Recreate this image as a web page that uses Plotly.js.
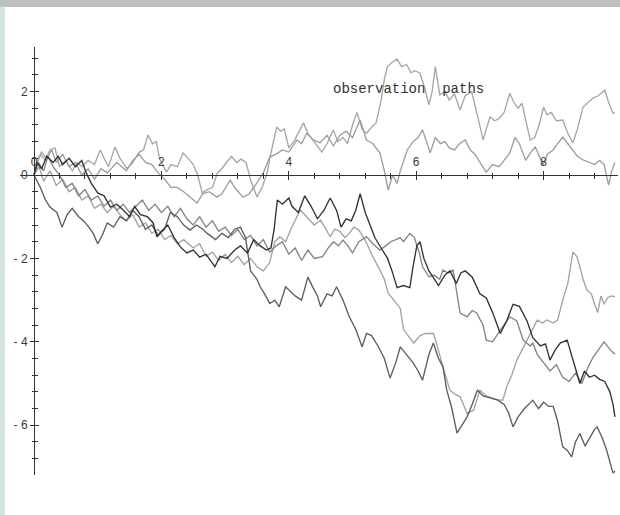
<!DOCTYPE html>
<html>
<head>
<meta charset="utf-8">
<script src="https://cdn.plot.ly/plotly-3.0.1.min.js"></script>
<style>
html,body{margin:0;padding:0;background:#fff;}
#wrap{position:relative;width:620px;height:515px;overflow:hidden;}
#chart{position:absolute;left:0;top:0;width:620px;height:515px;}
#topbar{position:absolute;left:0;top:0;width:620px;height:7px;background:#bdbebf;}
#leftbar{position:absolute;left:0;top:7px;width:5px;height:508px;background:#d3e5e5;}
</style>
</head>
<body>
<div id="wrap"><div id="chart"></div><div id="topbar"></div><div id="leftbar"></div></div>
<script>
// observation paths: time samples and values
var tA = [0,0.05,0.1,0.18,0.25,0.33,0.4,0.5,0.6,0.68,
  0.75,0.85,0.95,1.04,1.1,1.17,1.27,1.35,1.46,1.55,
  1.65,1.72,1.79,1.86,1.92,1.97,2.08,2.15,2.25,2.34,
  2.42,2.5,2.57,2.64,2.72,2.8,2.88,2.95,3.02,3.1,
  3.18,3.25,3.33,3.4,3.5,3.58,3.66,3.72,3.81,3.87,
  3.93,4.0,4.08,4.15,4.23,4.3,4.37,4.45,4.52,4.6,
  4.7,4.77,4.85,4.92,5.0,5.07,5.15,5.22,5.3,5.37,
  5.45,5.5,5.55,5.62,5.7,5.77,5.85,5.92,5.98,6.06,
  6.14,6.2,6.25,6.3,6.37,6.45,6.52,6.6,6.69,6.77,
  6.87,6.95,7.05,7.1,7.16,7.23,7.3,7.38,7.47,7.53,
  7.6,7.66,7.72,7.79,7.86,7.93,8.0,8.05,8.12,8.2,
  8.3,8.38,8.46,8.53,8.62,8.7,8.78,8.86,8.96,9.03,
  9.09,9.12];
var vA = [0,0.3,0.5,0.35,0.6,0.65,0.2,0.35,0.1,0.3,
  0.2,0.35,0.25,0.6,0.4,0.2,0.67,0.4,0.15,0.3,
  0.55,0.6,0.96,0.75,0.8,0.4,0.07,0.25,0.2,0.53,
  0.4,0.25,0.0,-0.43,-0.35,-0.3,0.05,0.15,0.3,0.45,
  0.3,0.38,0.3,-0.12,-0.53,-0.3,0.05,0.53,1.15,1.05,
  1.1,0.65,0.8,1.0,1.25,1.0,0.85,0.7,0.55,0.75,
  1.08,0.8,0.9,0.75,1.2,1.5,1.1,1.0,1.15,1.25,
  1.8,2.3,2.6,2.7,2.78,2.6,2.65,2.45,2.5,2.44,
  2.05,1.68,2.0,2.6,1.92,2.0,1.8,1.95,1.56,1.9,
  2.0,1.5,0.84,1.1,1.39,1.3,1.35,1.5,1.96,1.75,
  1.6,1.72,1.3,0.84,0.9,1.2,1.63,1.45,1.5,1.3,
  1.32,1.0,0.77,1.1,1.63,1.75,1.85,1.9,2.04,1.7,
  1.48,1.5];

var tB = [0,0.06,0.12,0.2,0.28,0.35,0.45,0.55,0.65,0.75,
  0.85,0.95,1.05,1.15,1.3,1.45,1.55,1.65,1.75,1.85,
  1.95,2.05,2.15,2.24,2.35,2.45,2.56,2.65,2.75,2.87,
  2.95,3.08,3.15,3.28,3.38,3.5,3.6,3.7,3.8,3.9,
  4.0,4.13,4.2,4.28,4.38,4.49,4.6,4.7,4.8,4.9,
  5.0,5.12,5.22,5.32,5.43,5.5,5.56,5.63,5.7,5.75,
  5.86,5.95,6.03,6.1,6.16,6.22,6.3,6.38,6.45,6.52,
  6.6,6.68,6.77,6.85,6.92,7.0,7.1,7.2,7.3,7.38,
  7.47,7.55,7.62,7.72,7.8,7.87,7.93,7.99,8.06,8.15,
  8.22,8.3,8.38,8.45,8.53,8.62,8.72,8.8,8.88,8.95,
  9.02,9.07,9.12];
var vB = [0,0.35,0.55,0.4,0.6,0.3,0.5,0.2,0.3,0.0,
  0.15,-0.1,0.15,0.05,0.3,0.1,0.35,0.5,0.3,0.25,
  0.05,-0.1,-0.3,-0.29,-0.4,-0.53,-0.67,-0.45,-0.4,-0.53,
  -0.45,-0.12,-0.3,-0.53,-0.45,-0.19,0.05,0.43,0.5,0.6,
  0.55,0.84,0.75,1.0,0.85,0.77,0.95,0.7,0.95,1.05,
  0.9,1.32,0.84,0.75,0.53,0.1,-0.36,0.0,-0.2,0.1,
  0.6,0.8,0.9,1.08,0.8,0.53,0.9,0.75,0.8,0.65,
  0.6,0.75,0.84,0.6,0.5,0.3,0.07,0.25,0.2,0.35,
  0.53,0.9,0.75,0.35,0.55,0.67,0.45,0.24,0.5,0.6,
  0.75,0.91,0.75,0.6,0.45,0.36,0.3,0.25,0.35,0.25,
  -0.24,0.1,0.3];

var tC = [0,0.05,0.12,0.2,0.3,0.38,0.45,0.55,0.65,0.75,
  0.82,0.9,1.0,1.1,1.2,1.3,1.4,1.5,1.58,1.67,
  1.78,1.87,1.93,2.0,2.1,2.2,2.3,2.4,2.5,2.6,
  2.7,2.84,2.92,3.03,3.15,3.24,3.35,3.45,3.55,3.65,
  3.72,3.77,3.82,3.9,4.0,4.05,4.15,4.25,4.35,4.45,
  4.55,4.65,4.75,4.82,4.9,4.98,5.05,5.12,5.2,5.28,
  5.35,5.45,5.55,5.62,5.7,5.8,5.9,5.95,6.01,6.06,
  6.12,6.2,6.27,6.35,6.45,6.53,6.63,6.7,6.77,6.88,
  7.0,7.1,7.2,7.32,7.42,7.52,7.62,7.74,7.83,7.95,
  8.03,8.1,8.18,8.26,8.37,8.48,8.57,8.64,8.72,8.8,
  8.88,8.96,9.04,9.09,9.12];
var vC = [0,0.3,0.15,0.45,0.3,0.45,0.25,0.4,0.2,0.35,
  0.05,-0.2,-0.43,-0.5,-0.77,-0.7,-0.84,-1.0,-0.75,-0.95,
  -1.0,-1.15,-1.48,-1.35,-1.2,-1.5,-1.73,-1.87,-1.8,-1.97,
  -1.9,-2.2,-1.95,-2.0,-1.8,-1.7,-1.87,-1.55,-1.7,-1.8,
  -1.75,-1.3,-0.6,-0.7,-0.55,-0.75,-0.9,-0.5,-0.75,-1.05,
  -0.85,-0.55,-0.85,-1.25,-1.05,-1.1,-0.85,-0.45,-0.9,-1.2,
  -1.5,-1.75,-2.0,-2.3,-2.7,-2.65,-2.7,-2.2,-1.7,-1.6,
  -2.0,-2.3,-2.45,-2.65,-2.4,-2.3,-2.6,-2.35,-2.3,-2.45,
  -2.85,-2.95,-3.3,-3.8,-3.5,-3.1,-3.15,-3.5,-3.9,-4.1,
  -4.05,-4.44,-4.2,-4.03,-3.96,-4.5,-5.0,-4.7,-4.85,-4.8,
  -4.9,-4.95,-5.2,-5.5,-5.8];

var tD = [0,0.1,0.18,0.25,0.36,0.44,0.52,0.6,0.7,0.78,
  0.86,0.93,1.0,1.07,1.15,1.25,1.35,1.45,1.55,1.65,
  1.75,1.85,1.95,2.05,2.14,2.25,2.35,2.45,2.55,2.65,
  2.72,2.85,2.95,3.05,3.15,3.24,3.32,3.4,3.5,3.55,
  3.62,3.7,3.78,3.85,3.95,4.03,4.1,4.2,4.3,4.38,
  4.45,4.5,4.6,4.68,4.75,4.85,4.95,5.05,5.15,5.22,
  5.3,5.4,5.5,5.59,5.68,5.75,5.85,5.95,6.03,6.1,
  6.2,6.27,6.35,6.42,6.48,6.56,6.64,6.72,6.8,6.88,
  6.96,7.05,7.15,7.28,7.38,7.45,7.52,7.6,7.7,7.83,
  7.92,8.0,8.08,8.15,8.22,8.3,8.37,8.44,8.5,8.57,
  8.65,8.72,8.8,8.84,8.92,8.99,9.05,9.09,9.12];
var vD = [0,-0.3,-0.6,-0.77,-0.9,-1.25,-0.95,-0.8,-1.0,-1.1,
  -1.25,-1.4,-1.65,-1.45,-1.15,-1.25,-1.0,-1.1,-0.85,-1.0,
  -1.3,-1.2,-1.45,-1.3,-0.9,-1.0,-1.2,-1.32,-1.2,-1.3,
  -1.4,-1.55,-1.4,-1.5,-1.3,-1.25,-1.5,-2.3,-2.5,-2.68,
  -2.85,-3.08,-3.0,-3.16,-2.68,-2.8,-2.9,-3.0,-2.45,-2.7,
  -2.9,-3.16,-2.85,-2.9,-2.68,-3.0,-3.4,-3.7,-4.12,-3.8,
  -3.85,-4.1,-4.4,-4.87,-4.5,-4.12,-4.3,-4.5,-4.7,-4.92,
  -4.3,-4.03,-4.4,-4.6,-5.16,-5.6,-6.19,-6.0,-5.8,-5.5,
  -5.16,-5.3,-5.35,-5.4,-5.5,-5.7,-6.04,-5.8,-5.6,-5.4,
  -5.6,-5.45,-5.55,-5.55,-5.9,-6.52,-6.6,-6.76,-6.4,-6.2,
  -6.5,-6.3,-6.1,-6.04,-6.3,-6.6,-6.9,-7.15,-7.1];

var tE = [0,0.08,0.15,0.25,0.35,0.45,0.55,0.65,0.75,0.85,
  0.95,1.05,1.15,1.25,1.35,1.45,1.55,1.65,1.75,1.85,
  1.95,2.05,2.15,2.25,2.35,2.5,2.6,2.7,2.8,2.9,
  3.0,3.1,3.2,3.3,3.4,3.5,3.6,3.7,3.78,3.86,
  3.95,4.05,4.18,4.3,4.4,4.5,4.58,4.65,4.72,4.8,
  4.88,4.95,5.02,5.1,5.2,5.3,5.43,5.5,5.56,5.65,
  5.75,5.8,5.85,5.96,6.06,6.15,6.27,6.32,6.42,6.53,
  6.6,6.69,6.8,6.9,7.0,7.1,7.2,7.3,7.36,7.42,
  7.5,7.58,7.66,7.74,7.82,7.9,7.98,8.05,8.15,8.22,
  8.3,8.38,8.46,8.52,8.57,8.62,8.68,8.75,8.8,8.85,
  8.9,8.95,9.0,9.06,9.12];
var vE = [0,0.2,-0.15,0.1,-0.25,-0.1,-0.4,-0.3,-0.6,-0.5,
  -0.8,-0.7,-0.9,-0.75,-0.95,-1.1,-0.95,-1.25,-1.15,-1.4,
  -1.3,-1.55,-1.45,-1.65,-1.55,-1.75,-1.65,-1.95,-1.85,-2.05,
  -1.9,-2.1,-1.95,-2.15,-2.0,-2.2,-2.3,-2.1,-1.6,-1.48,
  -1.6,-1.24,-0.84,-1.05,-1.2,-1.08,-1.3,-1.48,-1.3,-1.35,
  -1.5,-1.4,-1.25,-1.32,-1.56,-1.9,-2.28,-2.5,-2.83,-3.0,
  -3.2,-3.7,-3.8,-4.03,-3.85,-3.8,-3.8,-4.04,-4.6,-5.16,
  -5.25,-5.32,-5.72,-5.64,-5.16,-5.3,-5.35,-5.4,-5.4,-5.08,
  -4.8,-4.44,-4.2,-3.96,-3.7,-3.48,-3.55,-3.48,-3.55,-3.48,
  -3.0,-2.6,-1.85,-1.95,-2.2,-2.5,-2.76,-2.85,-3.1,-3.3,
  -2.9,-3.1,-2.95,-2.9,-2.92];

var tF = [0,0.07,0.15,0.22,0.3,0.4,0.5,0.6,0.7,0.8,
  0.9,1.0,1.1,1.2,1.3,1.4,1.5,1.6,1.7,1.8,
  1.9,2.0,2.1,2.2,2.3,2.4,2.5,2.6,2.7,2.8,
  2.9,3.0,3.1,3.2,3.3,3.4,3.5,3.6,3.7,3.8,
  3.9,4.0,4.1,4.2,4.3,4.4,4.53,4.62,4.7,4.78,
  4.85,4.93,5.0,5.1,5.22,5.32,5.43,5.52,5.6,5.68,
  5.75,5.8,5.9,5.97,6.05,6.1,6.2,6.28,6.37,6.42,
  6.5,6.58,6.64,6.69,6.8,6.88,6.95,7.05,7.1,7.2,
  7.32,7.4,7.47,7.58,7.68,7.79,7.83,7.9,8.0,8.1,
  8.2,8.3,8.4,8.5,8.6,8.7,8.78,8.88,8.95,9.05,
  9.12];
var vF = [0,0.3,0.1,0.45,0.2,0.0,-0.3,-0.2,-0.5,-0.35,
  -0.6,-0.5,-0.75,-0.6,-0.85,-0.7,-0.9,-0.75,-0.6,-0.85,
  -0.7,-0.9,-0.75,-1.0,-0.8,-1.05,-1.2,-1.0,-1.25,-1.1,
  -1.35,-1.25,-1.45,-1.3,-1.55,-1.45,-1.7,-1.55,-1.85,-1.7,
  -1.6,-1.9,-1.75,-2.05,-1.8,-2.0,-1.96,-1.75,-1.6,-1.7,
  -1.56,-1.7,-1.87,-1.6,-1.48,-1.65,-1.8,-1.7,-1.6,-1.55,
  -1.5,-1.6,-1.4,-1.5,-1.87,-2.2,-2.44,-2.4,-2.5,-2.28,
  -2.35,-2.28,-2.8,-3.31,-3.4,-3.25,-3.31,-3.6,-3.96,-4.0,
  -3.72,-3.55,-3.4,-3.5,-3.96,-4.1,-4.03,-4.3,-4.5,-4.7,
  -4.55,-4.85,-4.95,-4.75,-5.0,-4.6,-4.36,-4.15,-4.0,-4.2,
  -4.3];

var xTickVals = [0, 2, 4, 6, 8];
var xTickText = ['0', '2', '4', '6', '8'];
var yTickVals = [-6, -4, -2, 0, 2];
var yTickText = ['- 6', '- 4', '- 2', '0', '2'];
var titleText = 'observation\u00a0 paths';

var paths = [
  {t: tA, v: vA, c: '#a3a8a7'},
  {t: tB, v: vB, c: '#9aa09f'},
  {t: tE, v: vE, c: '#9fa5a4'},
  {t: tF, v: vF, c: '#7f8685'},
  {t: tD, v: vD, c: '#58605e'},
  {t: tC, v: vC, c: '#2e3433'}
];

var traces = paths.map(function (p) {
  return {x: p.t, y: p.v, type: 'scatter', mode: 'lines',
          line: {color: p.c, width: 1.35}, hoverinfo: 'skip'};
});
// empty helper trace so the second (tick) axes exist
traces.push({x: [], y: [], xaxis: 'x2', yaxis: 'y2', type: 'scatter', mode: 'lines', hoverinfo: 'skip'});

var xr = [(20 - 34) / 63.7, (618 - 34) / 63.7];
var yr = [(175 - 475) / 41.7, (175 - 47) / 41.7];
var xPos = (0 - yr[0]) / (yr[1] - yr[0]);
var yPos = (0 - xr[0]) / (xr[1] - xr[0]);
var axCol = '#333333';
var tickFont = {family: 'Liberation Sans, Arial, sans-serif', size: 12, color: '#3a3a3a'};

var layout = {
  width: 620, height: 515,
  margin: {l: 20, r: 2, t: 47, b: 40, pad: 0},
  paper_bgcolor: '#ffffff', plot_bgcolor: '#ffffff',
  showlegend: false,
  title: {text: titleText, xref: 'container', yref: 'container',
          x: 333 / 620, xanchor: 'left', y: 1 - 88 / 515, yanchor: 'middle',
          font: {family: 'Liberation Mono, Courier New, monospace', size: 14, color: '#333'}},
  xaxis: {range: xr, anchor: 'free', position: xPos, side: 'top',
          showgrid: false, zeroline: false, showline: true, linecolor: axCol, linewidth: 1.4,
          ticks: 'outside', ticklen: 4, tickwidth: 1, tickcolor: axCol,
          tickmode: 'array', tickvals: xTickVals, ticktext: xTickText, tickfont: tickFont,
          minor: {tickmode: 'linear', tick0: 0, dtick: 0.4, ticks: 'outside', ticklen: 2.5, tickcolor: axCol, showgrid: false}},
  xaxis2: {range: xr, overlaying: 'x', anchor: 'free', position: xPos, side: 'bottom',
           showgrid: false, zeroline: false, showline: false, showticklabels: false,
           ticks: 'outside', ticklen: 4, tickwidth: 1, tickcolor: axCol,
           tickmode: 'array', tickvals: xTickVals,
           minor: {tickmode: 'linear', tick0: 0, dtick: 0.4, ticks: 'outside', ticklen: 2.5, tickcolor: axCol, showgrid: false}},
  yaxis: {range: yr, anchor: 'free', position: yPos, side: 'left',
          showgrid: false, zeroline: false, showline: true, linecolor: axCol, linewidth: 1.4,
          ticks: 'outside', ticklen: 4, tickwidth: 1, tickcolor: axCol,
          tickmode: 'array', tickvals: yTickVals, ticktext: yTickText, tickfont: tickFont,
          minor: {tickmode: 'linear', tick0: 0, dtick: 0.4, ticks: 'outside', ticklen: 2.5, tickcolor: axCol, showgrid: false}},
  yaxis2: {range: yr, overlaying: 'y', anchor: 'free', position: yPos, side: 'right',
           showgrid: false, zeroline: false, showline: false, showticklabels: false,
           ticks: 'outside', ticklen: 4, tickwidth: 1, tickcolor: axCol,
           tickmode: 'array', tickvals: yTickVals,
           minor: {tickmode: 'linear', tick0: 0, dtick: 0.4, ticks: 'outside', ticklen: 2.5, tickcolor: axCol, showgrid: false}}
};

Plotly.newPlot('chart', traces, layout, {staticPlot: true, displayModeBar: false});
</script>
</body>
</html>
